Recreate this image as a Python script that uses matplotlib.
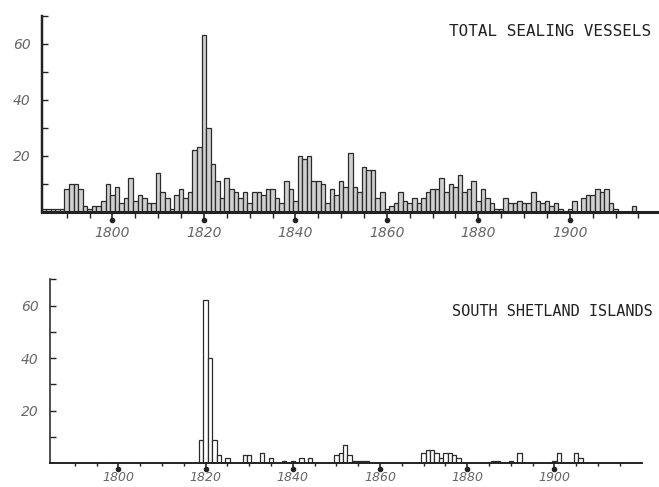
import matplotlib
matplotlib.use("Agg")
import matplotlib.pyplot as plt
from matplotlib.transforms import offset_copy

# Number of sealing vessels per year
years_total = list(range(1785, 1916))
vessels_total = [
    1, 1, 1, 1, 1,
    8, 10, 10, 8, 2, 1, 2, 2, 4, 10,
    6, 9, 3, 5, 12, 4, 6, 5, 3, 3,
    14, 7, 5, 1, 6, 8, 5, 7, 22, 23,
    63, 30, 17, 11, 5, 12, 8, 7, 5, 7,
    3, 7, 7, 6, 8, 8, 5, 3, 11, 8,
    4, 20, 19, 20, 11, 11, 10, 3, 8, 6,
    11, 9, 21, 9, 7, 16, 15, 15, 5, 7,
    1, 2, 3, 7, 4, 3, 5, 3, 5, 7,
    8, 8, 12, 7, 10, 9, 13, 7, 8, 11,
    4, 8, 5, 3, 1, 1, 5, 3, 3, 4,
    3, 3, 7, 4, 3, 4, 2, 3, 1, 0,
    1, 4, 0, 5, 6, 6, 8, 7, 8, 3,
    1, 0, 0, 0, 2, 0,
]

years_shetland = [1819, 1820, 1821, 1822, 1823, 1825, 1829, 1830, 1833, 1835,
                  1838, 1840, 1842, 1844, 1850, 1851, 1852, 1853, 1854, 1855,
                  1856, 1857, 1870, 1871, 1872, 1873, 1874, 1875, 1876, 1877,
                  1878, 1886, 1887, 1890, 1892, 1900, 1901, 1905, 1906]
vessels_shetland = [9, 62, 40, 9, 3, 2, 3, 3, 4, 2,
                    1, 1, 2, 2, 3, 4, 7, 3, 1, 1,
                    1, 1, 4, 5, 5, 4, 2, 4, 4, 3,
                    2, 1, 1, 1, 4, 1, 4, 4, 2]

titles = ["TOTAL SEALING VESSELS", "SOUTH SHETLAND ISLANDS"]
major_years = [1800, 1820, 1840, 1860, 1880, 1900]
y_labels = [20, 40, 60]

fig = plt.figure(figsize=(6.59, 4.87), dpi=100)
ax1 = fig.add_axes([42 / 659, 1 - 211.7 / 487, 617 / 659, 196 / 487])
ax2 = fig.add_axes([50 / 659, 1 - 463.3 / 487, 592 / 659, 184 / 487])

ax1.bar(years_total, vessels_total, width=1.0, color="#cfcfcf",
        edgecolor="#2a2a2a", linewidth=0.9)
ax2.bar(years_shetland, vessels_shetland, width=1.0, color="white",
        edgecolor="#2a2a2a", linewidth=0.9)

# per-axes settings: xlim, spine width, x label size, major tick length, pad, dot offset
setup = [
    (ax1, (1784.6, 1919.5), 2.2, 10, 6, 4, -6),
    (ax2, (1784.3, 1920.1), 1.4, 9, 4, 1.5, -4),
]

for ax, xlim, spine_w, xfs, major_len, xpad, dot_y in setup:
    ax.set_xlim(*xlim)
    ax.set_ylim(0, 70)
    for s in ["top", "right"]:
        ax.spines[s].set_visible(False)
    ax.spines["left"].set_linewidth(spine_w * 0.8)
    ax.spines["bottom"].set_linewidth(spine_w)
    ax.spines["left"].set_color("#222222")
    ax.spines["bottom"].set_color("#222222")

    ax.set_xticks(major_years)
    ax.set_xticklabels([str(y) for y in major_years], fontsize=xfs,
                       style="italic", color="#666666")
    ax.set_xticks(range(1790, 1920, 5), minor=True)
    ax.tick_params(axis="x", which="major", direction="out", length=major_len,
                   width=1.2, pad=xpad, colors="#222222", labelcolor="#666666")
    ax.tick_params(axis="x", which="minor", direction="out", length=major_len - 2,
                   width=1.0, colors="#222222")

    ax.set_yticks(y_labels)
    ax.set_yticklabels([str(v) for v in y_labels], fontsize=10,
                       style="italic", color="#666666")
    ax.set_yticks(range(10, 71, 10), minor=True)
    ax.tick_params(axis="y", which="both", direction="in", length=4,
                   width=1.0, colors="#222222", labelcolor="#666666", pad=8)

    # dots under the labelled ticks
    dots = offset_copy(ax.transData, fig=fig, y=dot_y, units="points")
    ax.plot(major_years, [0] * len(major_years), "o", ms=3, color="#222222",
            transform=dots, clip_on=False)

fig.text(651 / 659, 1 - 31 / 487, titles[0], ha="right", va="center",
         family="DejaVu Sans Mono", fontsize=11.5, color="#222222")
fig.text(653 / 659, 1 - 312 / 487, titles[1], ha="right", va="center",
         family="DejaVu Sans Mono", fontsize=11, color="#222222")

fig.savefig("out.png", dpi=100)
